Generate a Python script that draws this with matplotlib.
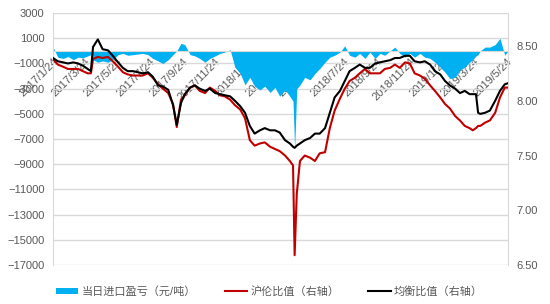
import matplotlib
matplotlib.use("Agg")
import matplotlib.pyplot as plt
from matplotlib.patches import Patch
from matplotlib.lines import Line2D
import pandas as pd

plt.rcParams['font.family'] = ['Liberation Sans', 'Noto Sans CJK SC']

# trading dates (sampled)
dates = [
    "2017-01-24", "2017-02-02", "2017-02-12", "2017-02-21", "2017-03-03", "2017-03-12",
    "2017-03-21", "2017-03-30", "2017-04-05", "2017-04-09", "2017-04-18", "2017-04-27",
    "2017-05-07", "2017-05-16", "2017-05-26", "2017-06-04", "2017-06-13", "2017-06-23",
    "2017-07-02", "2017-07-11", "2017-07-21", "2017-07-30", "2017-08-09", "2017-08-18",
    "2017-08-28", "2017-09-06", "2017-09-13", "2017-09-21", "2017-09-28", "2017-10-08",
    "2017-10-17", "2017-10-26", "2017-11-05", "2017-11-14", "2017-11-24", "2017-12-03",
    "2017-12-12", "2017-12-22", "2017-12-31", "2018-01-10", "2018-01-19", "2018-01-28",
    "2018-02-06", "2018-02-16", "2018-02-25", "2018-03-07", "2018-03-16", "2018-03-25",
    "2018-04-04", "2018-04-13", "2018-04-19", "2018-04-22", "2018-04-26", "2018-05-02",
    "2018-05-11", "2018-05-21", "2018-05-30", "2018-06-08", "2018-06-18", "2018-06-27",
    "2018-07-06", "2018-07-16", "2018-07-25", "2018-08-03", "2018-08-13", "2018-08-22",
    "2018-09-01", "2018-09-10", "2018-09-20", "2018-09-29", "2018-10-08", "2018-10-18",
    "2018-10-27", "2018-11-05", "2018-11-15", "2018-11-24", "2018-12-03", "2018-12-13",
    "2018-12-22", "2019-01-01", "2019-01-10", "2019-01-20", "2019-01-29", "2019-02-07",
    "2019-02-17", "2019-02-26", "2019-03-07", "2019-03-16", "2019-03-22", "2019-03-28",
    "2019-04-01", "2019-04-05", "2019-04-14", "2019-04-23", "2019-05-03", "2019-05-12",
    "2019-05-21", "2019-05-27",
]

# 当日进口盈亏 (元/吨)
import_pnl = [
    300, -500, -600, -450, -700, -500, -550, -400, -300, -700, -900, -800,
    -900, -700, -300, -200, -350, -300, -250, -200, -300, -600, -800, -1000,
    -700, -300, 0, 600, 500, -300, -400, -600, -900, -600, -400, -200,
    -100, 100, -1300, -1800, -2700, -2100, -2800, -3100, -2800, -3300, -2900, -3600,
    -3100, -3600, -4000, -7800, -3000, -2700, -2100, -2300, -1800, -1400, -900, -500,
    -350, -100, 400, -350, -500, -200, -600, -100, -600, -200, -350, 0,
    300, -200, -500, -200, -500, -200, -500, -600, -900, -1300, -1700, -2200,
    -2100, -1500, -1300, -900, -700, -400, -300, 0, 300, 300, 500, 1000,
    -350, 0,
]

# 沪伦比值 (右轴)
shfe_lme = [
    8.38, 8.33, 8.31, 8.29, 8.29, 8.29, 8.27, 8.25, 8.25, 8.38, 8.40, 8.39,
    8.40, 8.36, 8.31, 8.26, 8.24, 8.23, 8.23, 8.23, 8.25, 8.21, 8.15, 8.11,
    8.07, 7.97, 7.76, 8.01, 8.05, 8.12, 8.14, 8.09, 8.07, 8.12, 8.09, 8.05,
    8.04, 8.01, 7.96, 7.92, 7.84, 7.64, 7.59, 7.61, 7.62, 7.58, 7.56, 7.54,
    7.50, 7.45, 7.41, 6.59, 7.15, 7.45, 7.50, 7.48, 7.45, 7.52, 7.53, 7.75,
    7.91, 8.02, 8.11, 8.18, 8.21, 8.25, 8.29, 8.25, 8.25, 8.25, 8.29, 8.30,
    8.33, 8.30, 8.35, 8.34, 8.25, 8.23, 8.20, 8.14, 8.09, 8.03, 7.97, 7.93,
    7.86, 7.82, 7.77, 7.75, 7.73, 7.75, 7.77, 7.77, 7.80, 7.82, 7.89, 8.03,
    8.12, 8.12,
]

# 均衡比值 (右轴)
balance = [
    8.39, 8.36, 8.35, 8.34, 8.35, 8.34, 8.32, 8.29, 8.27, 8.49, 8.56, 8.47,
    8.46, 8.41, 8.35, 8.30, 8.27, 8.27, 8.26, 8.25, 8.26, 8.22, 8.14, 8.13,
    8.10, 7.96, 7.78, 7.98, 8.06, 8.12, 8.14, 8.11, 8.09, 8.11, 8.07, 8.06,
    8.05, 8.04, 8.00, 7.95, 7.89, 7.77, 7.70, 7.73, 7.75, 7.73, 7.73, 7.71,
    7.64, 7.61, 7.58, 7.57, 7.59, 7.61, 7.64, 7.66, 7.70, 7.70, 7.75, 7.89,
    8.03, 8.09, 8.18, 8.27, 8.30, 8.33, 8.30, 8.30, 8.34, 8.35, 8.36, 8.37,
    8.39, 8.39, 8.41, 8.41, 8.36, 8.35, 8.36, 8.33, 8.27, 8.24, 8.18, 8.14,
    8.11, 8.07, 8.09, 8.06, 8.06, 8.06, 7.89, 7.88, 7.89, 7.91, 8.00, 8.09,
    8.15, 8.16,
]

tick_dates = ["2017-01-24", "2017-03-24", "2017-05-24", "2017-07-24", "2017-09-24",
              "2017-11-24", "2018-01-24", "2018-03-24", "2018-05-24", "2018-07-24",
              "2018-09-24", "2018-11-24", "2019-01-24", "2019-03-24", "2019-05-24"]
tick_labels = ["2017/1/24", "2017/3/24", "2017/5/24", "2017/7/24", "2017/9/24",
               "2017/11/24", "2018/1/24", "2018/3/24", "2018/5/24", "2018/7/24",
               "2018/9/24", "2018/11/24", "2019/1/24", "2019/3/24", "2019/5/24"]

x = pd.to_datetime(dates)
grey = '#595959'
grid_c = '#D9D9D9'

fig = plt.figure(figsize=(5.5, 3.04), dpi=100)
ax = fig.add_axes([0.0964, 0.128, 0.8272, 0.829])
ax2 = ax.twinx()

# draw everything first, then style the axes
ax.fill_between(x, import_pnl, 0, color='#00B0F0', linewidth=0, zorder=2)
ax2.plot(x, shfe_lme, color='#C00000', linewidth=1.5, zorder=3)
ax2.plot(x, balance, color='black', linewidth=1.5, zorder=4)

ax.set_ylim(-17000, 3000)
ax.set_yticks(range(-17000, 3001, 2000))
ax.grid(axis='y', color=grid_c, linewidth=1, zorder=0)
ax.set_axisbelow(True)
ax.set_xlim(pd.Timestamp("2017-01-24"), pd.Timestamp("2019-05-27"))
ax.set_xticks(pd.to_datetime(tick_dates))
ax.set_xticklabels(tick_labels)
ax.spines['bottom'].set_position(('data', 0))
ax.spines['bottom'].set_color(grid_c)
ax.spines['top'].set_visible(False)
ax.spines['left'].set_color(grid_c)
ax.spines['right'].set_visible(False)
ax.tick_params(axis='both', length=0, labelsize=8, labelcolor=grey)
ax.tick_params(axis='x', pad=4)
ax.tick_params(axis='y', pad=6)
for lbl in ax.get_xticklabels():
    lbl.set_rotation(45)
    lbl.set_rotation_mode('anchor')
    lbl.set_ha('right')
    lbl.set_va('top')

ax2.set_ylim(6.5, 8.8)
ax2.set_yticks([6.5, 7.0, 7.5, 8.0, 8.5])
ax2.set_yticklabels(["6.50", "7.00", "7.50", "8.00", "8.50"])
ax2.tick_params(axis='y', length=0, labelsize=8, labelcolor=grey, pad=6)
for s in ['top', 'bottom', 'left']:
    ax2.spines[s].set_visible(False)
ax2.spines['right'].set_color(grid_c)

handles = [Patch(facecolor='#00B0F0', edgecolor='none'),
           Line2D([], [], color='#C00000', linewidth=1.5),
           Line2D([], [], color='black', linewidth=1.5)]
labels = ["当日进口盈亏（元/吨）", "沪伦比值（右轴）", "均衡比值（右轴）"]
fig.legend(handles, labels, loc='lower center', bbox_to_anchor=(0.49, -0.01), ncol=3,
           frameon=False, fontsize=8, handlelength=2.0, handleheight=0.5,
           columnspacing=2.6, handletextpad=0.3, labelcolor=grey)

fig.savefig("out.png", dpi=100)
